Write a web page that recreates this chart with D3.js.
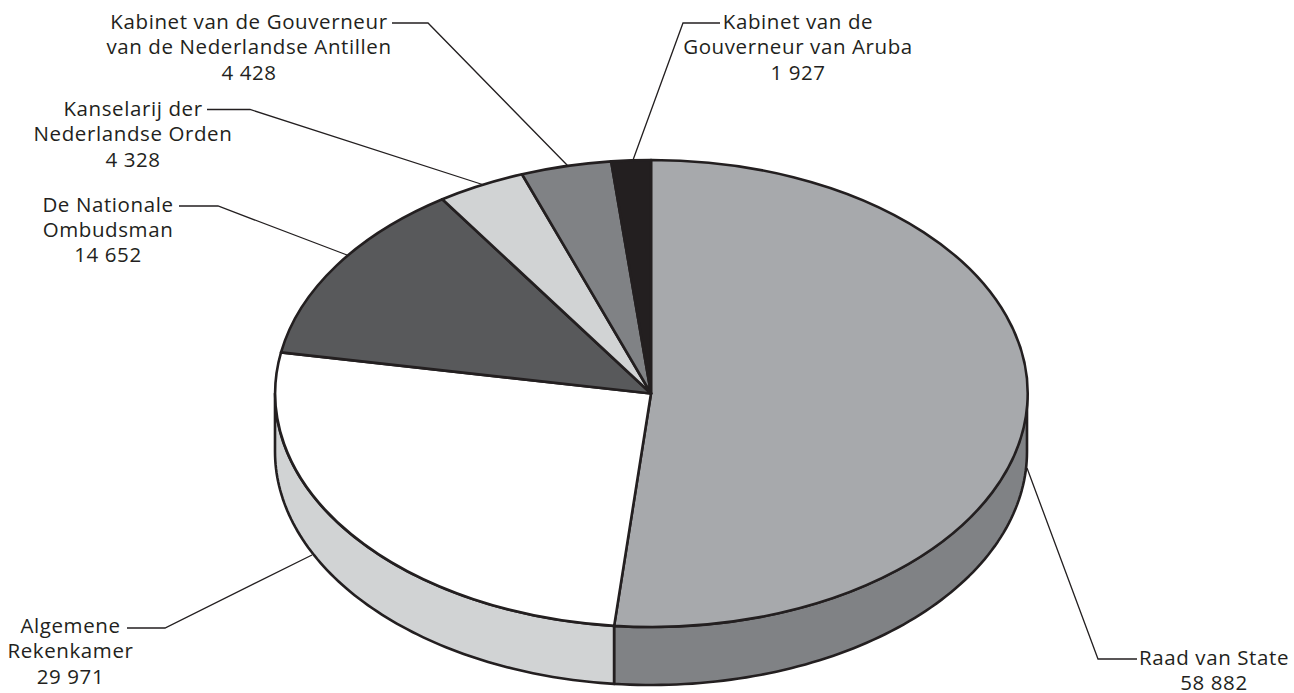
<!DOCTYPE html>
<html><head><meta charset="utf-8">
<script src="https://cdn.jsdelivr.net/npm/d3@7"></script>
<style>html,body{margin:0;background:#fff}svg{display:block}text{font-family:"Open Sans",sans-serif;font-size:20.5px;letter-spacing:.6px;fill:#231f20}</style>
</head><body><svg id="c" width="1294" height="693"></svg>
<script>
const categories=["Raad van State","Algemene Rekenkamer","De Nationale Ombudsman","Kanselarij der Nederlandse Orden","Kabinet van de Gouverneur van de Nederlandse Antillen","Kabinet van de Gouverneur van Aruba"];
const values=[58882,29971,14652,4328,4428,1927];
const topColors=["#a7a9ac","#ffffff","#58595b","#d1d3d4","#808285","#231f20"];
const sideColors=["#808285","#d1d3d4","#58595b","#d1d3d4","#808285","#231f20"];
const labelLines=[["Raad van State","58 882"],["Algemene","Rekenkamer","29 971"],["De Nationale","Ombudsman","14 652"],["Kanselarij der","Nederlandse Orden","4 328"],["Kabinet van de Gouverneur","van de Nederlandse Antillen","4 428"],["Kabinet van de","Gouverneur van Aruba","1 927"]];
const labelCentre=[[1214,665],[70.5,633],[108,211.5],[133,116],[249,29],[798,29]];
const leaders=[[[1027,468],[1098,659],[1137,659]],[[312,555],[165,628],[127,628]],[[347,255],[218,206],[179,206]],[[484,185],[250,109.5],[207,109.5]],[[568,166],[428,23],[392,23]],[[633,160],[683,23],[720,23]]];

const cx=651,cy=393.5,rx=376,ry=233.5,depth=58;
const svg=d3.select("#c");
const arcs=d3.pie().sort(null).value(d=>d)(values);
const px=d3.scaleLinear().domain([-1,1]).range([cx-rx,cx+rx]);
const py=d3.scaleLinear().domain([-1,1]).range([cy-ry,cy+ry]);
const pt=(a,dy=0)=>[px(Math.sin(a)),py(-Math.cos(a))+dy];
const ln=d3.line();

arcs.forEach((d,i)=>{
  const a0=Math.max(d.startAngle,Math.PI/2),a1=Math.min(d.endAngle,Math.PI*1.5);
  if(a1<=a0)return;
  const n=80,ts=d3.range(n+1).map(k=>a0+(a1-a0)*k/n);
  const poly=ts.map(t=>pt(t)).concat(ts.slice().reverse().map(t=>pt(t,depth)));
  svg.append("path").attr("d",ln(poly)+"Z").attr("fill",sideColors[i]).attr("stroke","#231f20").attr("stroke-width",2.6).attr("stroke-linejoin","round");
});
const g=svg.append("g").attr("transform",`translate(${cx},${cy}) scale(${rx},${ry})`);
const arc=d3.arc().innerRadius(0).outerRadius(1);
g.selectAll("path").data(arcs).join("path").attr("d",arc)
 .attr("fill",(d,i)=>topColors[i]).attr("stroke","#231f20").attr("stroke-width",2.6)
 .attr("stroke-linejoin","round").attr("vector-effect","non-scaling-stroke");
svg.selectAll("path.l").data(leaders).join("path").attr("class","l")
 .attr("d",d=>ln(d)).attr("fill","none").attr("stroke","#231f20").attr("stroke-width",1.3);
labelLines.forEach((ls,i)=>{
  const t=svg.append("text").attr("text-anchor","middle");
  ls.forEach((s,j)=>t.append("tspan").attr("x",labelCentre[i][0]).attr("y",labelCentre[i][1]+j*25.4).text(s));
});
</script></body></html>
